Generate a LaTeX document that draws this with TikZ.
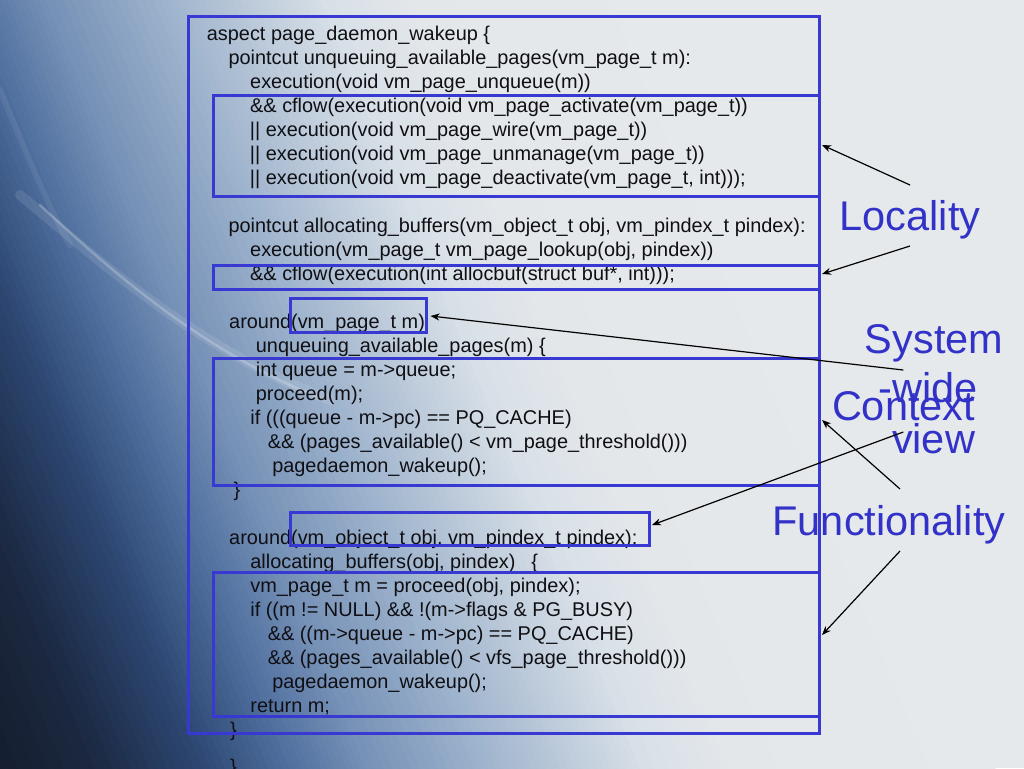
\documentclass[tikz,border=0pt]{standalone}
\usepackage{fontspec}
\setmainfont{Liberation Sans}
\usetikzlibrary{arrows.meta}
\definecolor{boxblue}{RGB}{56,56,210}
\definecolor{lblblue}{RGB}{50,50,200}
\definecolor{codeblack}{RGB}{15,15,20}
\definecolor{g0}{HTML}{10151F}
\definecolor{g1}{HTML}{1B2840}
\definecolor{g2}{HTML}{2D4772}
\definecolor{g3}{HTML}{4F6F9E}
\definecolor{g4}{HTML}{7590B6}
\definecolor{g5}{HTML}{9AB0CB}
\definecolor{g6}{HTML}{B9C8D9}
\definecolor{g7}{HTML}{D8E0E7}
\definecolor{g8}{HTML}{E3E7EA}
\definecolor{g9}{HTML}{E6E9EB}
\newcommand\bgband[3]{%
  \fill[#3] ({240+0.923*#1-500.5},{-0.385*#1-1200}) -- ({240+0.923*#2-500.5},{-0.385*#2-1200})
   -- ({240+0.923*#2+500.5},{-0.385*#2+1200}) -- ({240+0.923*#1+500.5},{-0.385*#1+1200}) -- cycle;}
\begin{document}
\begin{tikzpicture}[x=1pt,y=-1pt,
  code/.style={font=\fontsize{19.9}{24}\selectfont, anchor=base west, inner sep=0pt, text=codeblack},
  lbl/.style={font=\fontsize{41.5}{50}\selectfont, anchor=base, inner sep=0pt, text=lblblue},
  codebox/.style={draw=boxblue, line width=3pt},
  conn/.style={draw=black, line width=1.2pt, -{Stealth[length=9pt,width=7pt]}}]
\useasboundingbox (0,0) rectangle (1024,768);
% background
\begin{scope}
\clip (0,0) rectangle (1024,768);
\fill[g9] (0,0) rectangle (1024,768);
\foreach \sa/\sb/\ca/\cb in {-600/-430/g0/g1,-430/-330/g1/g2,-330/-250/g2/g3,-250/-180/g3/g4,-180/-80/g4/g5,-80/0/g5/g6,0/80/g6/g7,80/160/g7/g8,160/400/g8/g9}{
  \foreach \i in {0,...,11}{
    \pgfmathsetmacro\ss{\sa+(\sb-\sa)*\i/12}
    \pgfmathsetmacro\se{\sa+(\sb-\sa)*(\i+1)/12+1.5}
    \pgfmathtruncatemacro\pc{100-(\i+0.5)*100/12}
    \colorlet{bandc}{\ca!\pc!\cb}
    \bgband{\ss}{\se}{bandc}
  }
}
\draw[white, opacity=0.10, line width=10pt, line cap=round] (20,195) .. controls (110,270) and (200,350) .. (330,400);
\draw[white, opacity=0.22, line width=2.5pt, line cap=round] (40,205) .. controls (110,270) and (200,350) .. (320,398);
\draw[white, opacity=0.07, line width=6pt, line cap=round] (0,90) .. controls (25,150) and (45,200) .. (70,245);
\end{scope}
% code lines
\node[code] (l0) at (206.7,40.7) {aspect page\_daemon\_wakeup \{};
\node[code] (l1) at (228.4,64.7) {pointcut unqueuing\_available\_pages(vm\_page\_t m):};
\node[code] (l2) at (250,88.5) {execution(void vm\_page\_unqueue(m))};
\node[code] (l3) at (250,112.5) {\&\& cflow(execution(void vm\_page\_activate(vm\_page\_t))};
\node[code] (l4) at (249.7,136.7) {|| execution(void vm\_page\_wire(vm\_page\_t))};
\node[code] (l5) at (249.7,160.7) {|| execution(void vm\_page\_unmanage(vm\_page\_t))};
\node[code] (l6) at (249.7,184.7) {|| execution(void vm\_page\_deactivate(vm\_page\_t, int)));};
\node[code] (l8) at (228.4,232.7) {pointcut allocating\_buffers(vm\_object\_t obj, vm\_pindex\_t pindex):};
\node[code] (l9) at (250,256.7) {execution(vm\_page\_t vm\_page\_lookup(obj, pindex))};
\node[code] (l10) at (250,280.7) {\&\& cflow(execution(int allocbuf(struct buf*, int)));};
\node[code] (l12) at (229,328.7) {around(vm\_page\_t m)};
\node[code] (l13) at (255.7,352.7) {unqueuing\_available\_pages(m) \{};
\node[code] (l14) at (255.7,376.7) {int queue = m->queue;};
\node[code] (l15) at (255.7,400.7) {proceed(m);};
\node[code] (l16) at (250.2,424.7) {if (((queue - m->pc) == PQ\_CACHE)};
\node[code] (l17) at (267.6,448.7) {\&\& (pages\_available() < vm\_page\_threshold()))};
\node[code] (l18) at (272.1,472.7) {pagedaemon\_wakeup();};
\node[code] (l19) at (233.5,496.7) {\}};
\node[code] (l21) at (229,544.7) {around(vm\_object\_t obj, vm\_pindex\_t pindex):};
\node[code] (l22) at (250.2,568.7) {allocating\_buffers(obj, pindex)\hspace{16pt}\{};
\node[code] (l23) at (250.2,592.7) {vm\_page\_t m = proceed(obj, pindex);};
\node[code] (l24) at (250.2,616.7) {if ((m != NULL) \&\& !(m->flags \& PG\_BUSY)};
\node[code] (l25) at (267.6,640.7) {\&\& ((m->queue - m->pc) == PQ\_CACHE)};
\node[code] (l26) at (267.6,664.7) {\&\& (pages\_available() < vfs\_page\_threshold()))};
\node[code] (l27) at (272.1,688.7) {pagedaemon\_wakeup();};
\node[code] (l28) at (250.2,712.7) {return m;};
\node[code] (l29) at (230,736.7) {\}};
\node[code] (l31) at (230,773) {\}};
% boxes
\draw[codebox] (188,17) rectangle (819,733);
\draw[codebox] (213,95) rectangle (819,196);
\draw[codebox] (213,265) rectangle (819,289.5);
\draw[codebox] (290,298.5) rectangle (426.5,332.5);
\draw[codebox] (213,358.5) rectangle (819,485.5);
\draw[codebox] (290,512.5) rectangle (649,545.5);
\draw[codebox] (213,572) rectangle (819,716.5);
% labels
\node[lbl] (locality) at (910,230) {Locality};
\node[lbl] (system) at (934,353) {System};
\node[lbl] (wide) at (928.3,402) {-wide};
\node[lbl] (view) at (933.5,453) {view};
\node[lbl] (context) at (903.5,420) {Context};
\node[lbl] (functionality) at (889,535) {Functionality};
% connectors
\coordinate (a1s) at (910,185);   \coordinate (a1e) at (822,145);
\coordinate (a2s) at (910,246);   \coordinate (a2e) at (822,274);
\coordinate (a3s) at (903.3,370); \coordinate (a3e) at (430.5,316);
\coordinate (a4s) at (900,489);   \coordinate (a4e) at (822,420);
\coordinate (a5s) at (903.3,432); \coordinate (a5e) at (652,525);
\coordinate (a6s) at (900,551);   \coordinate (a6e) at (822,635);
\draw[conn] (a1s) -- (a1e);
\draw[conn] (a2s) -- (a2e);
\draw[conn] (a3s) -- (a3e);
\draw[conn] (a4s) -- (a4e);
\draw[conn] (a5s) -- (a5e);
\draw[conn] (a6s) -- (a6e);
\end{tikzpicture}
\end{document}
